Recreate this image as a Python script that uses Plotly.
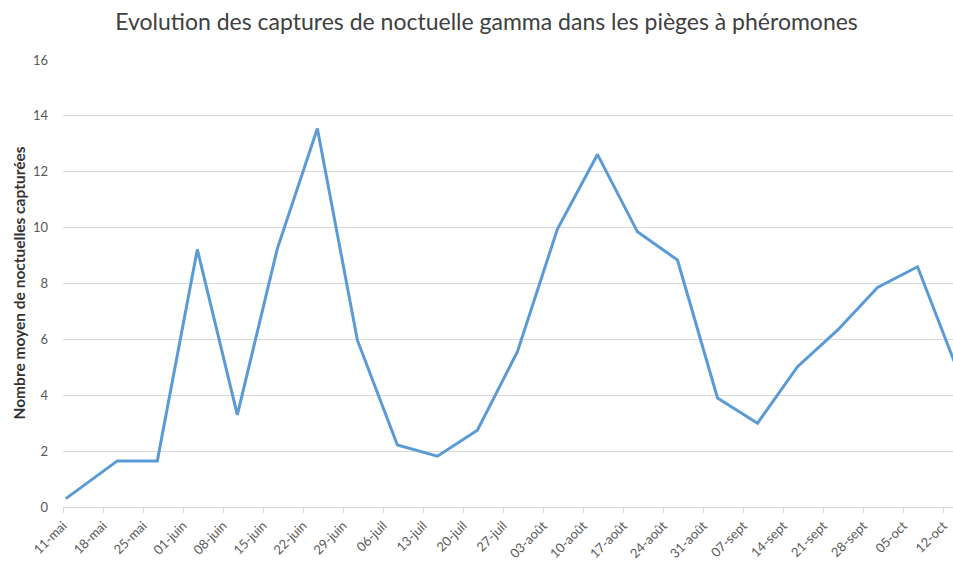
import pandas as pd
import plotly.graph_objects as go

# ---- data ----
dates = ["2020-05-11", "2020-05-20", "2020-05-27", "2020-06-03", "2020-06-10",
         "2020-06-17", "2020-06-24", "2020-07-01", "2020-07-08", "2020-07-15",
         "2020-07-22", "2020-07-29", "2020-08-05", "2020-08-12", "2020-08-19",
         "2020-08-26", "2020-09-02", "2020-09-09", "2020-09-16", "2020-09-23",
         "2020-09-30", "2020-10-07", "2020-10-14"]
captures = [0.3, 1.65, 1.65, 9.22, 3.3, 9.25, 13.55, 5.97, 2.22, 1.82,
            2.75, 5.56, 9.95, 12.62, 9.85, 8.84, 3.9, 3.0, 5.02, 6.33,
            7.86, 8.6, 4.9]
tick_dates = ["2020-05-11", "2020-05-18", "2020-05-25", "2020-06-01", "2020-06-08",
              "2020-06-15", "2020-06-22", "2020-06-29", "2020-07-06", "2020-07-13",
              "2020-07-20", "2020-07-27", "2020-08-03", "2020-08-10", "2020-08-17",
              "2020-08-24", "2020-08-31", "2020-09-07", "2020-09-14", "2020-09-21",
              "2020-09-28", "2020-10-05", "2020-10-12"]
tick_labels = ["11-mai", "18-mai", "25-mai", "01-juin", "08-juin", "15-juin",
               "22-juin", "29-juin", "06-juil", "13-juil", "20-juil", "27-juil",
               "03-août", "10-août", "17-août", "24-août", "31-août", "07-sept",
               "14-sept", "21-sept", "28-sept", "05-oct", "12-oct"]

title = "Evolution des captures de noctuelle gamma dans les pièges à phéromones"
y_title = "Nombre moyen de noctuelles capturées"

# Excel date axes draw each day's value in the middle of the day
x_vals = pd.to_datetime(dates) + pd.Timedelta(hours=12)

FONT = "Lato, Open Sans, sans-serif"
GRID = "#d9d9d9"
TXT = "#595959"

fig = go.Figure()
fig.add_trace(go.Scatter(
    x=x_vals, y=captures, mode="lines",
    line=dict(color="#5b9bd5", width=3),
    showlegend=False,
))

fig.update_layout(
    width=953, height=563,
    margin=dict(l=63, r=0, t=60, b=56),
    paper_bgcolor="white", plot_bgcolor="white",
    font=dict(family=FONT, color=TXT, size=13),
    title=dict(text=title, x=486.5 / 953, xanchor="center", xref="container",
               y=1 - 22 / 563, yanchor="middle", yref="container",
               font=dict(family=FONT, size=23, color="#404040")),
    annotations=[dict(text="<b>" + y_title + "</b>", textangle=-90,
                      xref="paper", yref="paper", x=-45 / 890, y=0.5,
                      xanchor="center", yanchor="middle", showarrow=False,
                      font=dict(family=FONT, size=15.5, color="#333333"))],
)

fig.update_xaxes(
    type="date",
    range=[pd.Timestamp("2020-05-11"), pd.Timestamp("2020-10-13 16:48")],
    tickmode="array", tickvals=pd.to_datetime(tick_dates), ticktext=tick_labels,
    tickangle=-45, tickfont=dict(size=13, color=TXT, family=FONT),
    ticks="outside", ticklen=5, tickcolor=GRID, tickwidth=1,
    showline=True, linecolor=GRID, linewidth=1,
    showgrid=False, zeroline=False, automargin=False,
)
fig.update_yaxes(
    range=[0, 16], dtick=2, tick0=0,
    showgrid=True, gridcolor=GRID, gridwidth=1,
    zeroline=False, showline=False, ticks="",
    tickfont=dict(size=13, color=TXT, family=FONT),
    ticklabelstandoff=14, automargin=False,
)

# remove the default 8px page margin so the figure sits at the window's corner
fig.write_html("out.html",
               config={"displayModeBar": False},
               post_script="document.body.style.margin='0';document.body.style.overflow='hidden';")
